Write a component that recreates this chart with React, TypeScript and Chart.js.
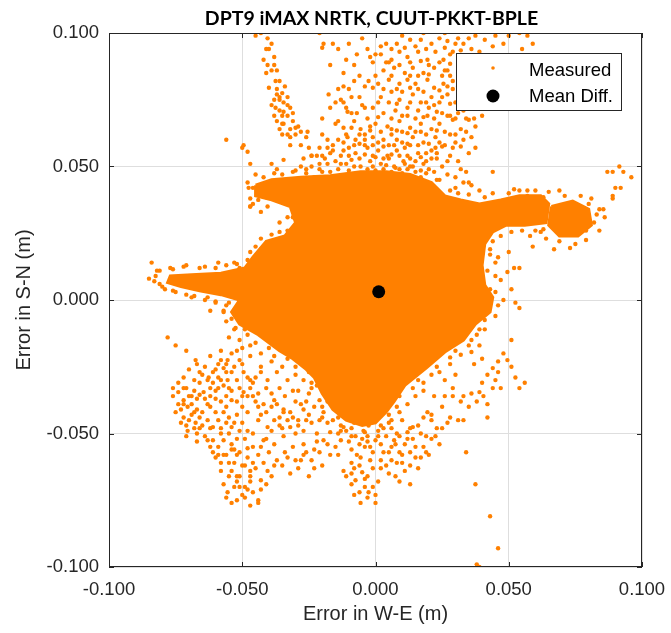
import { useEffect, useRef } from "react";
import { Chart, registerables } from "chart.js";

Chart.register(...registerables);

const TITLE = "DPT9 iMAX NRTK, CUUT-PKKT-BPLE";
const X_LABEL = "Error in W-E (m)";
const Y_LABEL = "Error in S-N (m)";
const TICK_VALUES = [-0.1, -0.05, 0, 0.05, 0.1];
const TICK_LABELS = ["-0.100", "-0.050", "0.000", "0.050", "0.100"];

const ORANGE = "#ff8000";
const INK = "#262626";

// All positions below are in millimetres (W-E, S-N).

// Outline of the saturated central cloud, where the fixes overlap completely.
const coreOutline: number[][] = [
  [-45, 43], [-39, 45], [-28, 46], [-17, 46.5], [-5.6, 48], [4, 48], [13, 47], [21, 44],
  [26, 39], [32, 37.5], [39, 36], [47, 37.5], [54, 39], [62, 39], [65, 36], [64, 29],
  [56, 28], [49, 28], [44, 25.5], [41, 21], [40, 13], [41, 5.6], [44, 1], [43, -4.5],
  [37.5, -9], [33, -15], [26, -19.5], [19, -25.5], [11, -32], [7, -38], [4, -42], [0, -46],
  [-5, -47], [-11, -45], [-16, -41], [-20, -35], [-23, -29], [-26, -26], [-31, -22], [-36, -19],
  [-44, -13], [-51, -9], [-54, -4.5], [-51, 0], [-58, 2], [-66, 3.5], [-73, 5], [-78, 6.5],
  [-77, 9], [-69, 9.5], [-58, 10], [-49, 12], [-46, 16], [-41, 22], [-34, 24], [-30, 29],
  [-32, 35], [-39, 37.5], [-45, 39], [-45, 43],
];

// Outline of the dense eastern cluster.
const eastOutline: number[][] = [
  [66, 35], [74, 37], [80, 34], [81, 28], [76, 24], [69, 24], [65, 28], [66, 35],
];

// Individual fixes around the dense areas.
const northWestFixes: number[][] = [
  [-45, 99], [-40.5, 98], [-41, 94], [-40, 94], [-38, 91], [-40.5, 88], [-41, 85], [-37.5, 82],
  [-36, 82], [-40, 79.5], [-37, 77], [-36, 76], [-36, 75], [-34.5, 74], [-37.5, 72], [-33, 73],
  [-36, 71], [-34.5, 70.5], [-32, 72], [-38, 69], [-35, 69], [-33, 69], [-37, 67], [-34.5, 66],
  [-36, 64], [-32, 64], [-30, 64.5], [-29, 65], [-32, 61], [-49.5, 58], [-48, 55.5], [-56, 60],
  [-50, 57], [-47, 51], [-45, 47], [-47.6, 42], [-46, 42], [-44, 37.5], [-43, 33], [-40.5, 35],
  [-46, 36], [-47, 35], [-39, 51], [-37, 49], [-34.5, 52.5], [-31, 48], [-28, 50], [-24, 54],
  [-21, 51], [-17, 55], [-27, 53], [-21, 49], [-17, 48], [-23, 46],
  [-39, 73], [-38, 75], [-35, 77.5], [-33, 76], [-39, 86], [-38, 88], [-35, 66], [-31, 67],
  [-33, 62], [-28, 58], [-26, 61], [-20, 62], [-18, 60], [-22, 54], [-19, 53], [-24, 50],
  [-26, 49], [-12, 85], [-11, 90], [-8, 88], [-6, 76], [-7, 70], [-20, 68],
  [-42, 90], [-39, 96], [-43, 100], [-37, 86], [-34, 80], [-37, 79], [-31, 70], [-30, 62],
  [-28, 63], [-35, 62], [-32, 58],
];

const northFixes: number[][] = [
  [-20, 94.5], [-16, 96], [-14, 94], [-19.5, 96], [-21, 100], [-17, 88], [-17.6, 77], [-14, 79],
  [-13, 75], [-15, 74], [-10, 79], [-17, 72], [-11, 72], [-10.5, 70.5], [-25.5, 63], [-25, 57],
  [-14, 67], [-21, 57], [-24, 54], [-3, 94], [-2.6, 82], [-4, 72], [-2, 91], [0, 92],
  [-1, 89], [-1, 79.5], [-12, 64.5], [-9, 64.5], [-14, 60], [-10.5, 61], [-7.5, 60], [-5.6, 64],
  [-4, 62], [-18, 57], [-16, 58], [-16, 56], [-13, 54], [-9, 52.5], [-7.5, 55], [-11, 51],
  [-13, 51], [-5.6, 50], [-15, 66],
  [4, 96], [8, 96], [13, 97.5], [15, 95], [17, 97.5], [21, 96], [24, 98], [27, 97], [31, 98], [33, 96],
  [2, 92], [6, 90], [9, 93], [12, 91], [16, 93], [19.5, 90], [22.5, 93], [25.5, 90], [28, 92],
  [3, 86], [7, 87], [11, 85], [14, 87], [18, 85], [22, 87], [25, 84], [27, 86],
  [1, 81], [5, 82.5], [9, 81], [12, 82.5], [15, 81], [19.5, 82.5], [22, 79.5], [25.5, 81], [29, 82],
  [2, 76], [6, 78], [9, 75], [14, 77], [17, 74], [21, 76], [24, 74], [27, 77],
  [-1, 72], [3, 70], [7.5, 71], [12, 69], [16, 71], [19.5, 69], [23, 70.5], [27, 69], [31, 70], [34, 68],
  [0, 66], [4.5, 65], [9, 67], [13, 64.5], [17, 66], [21, 64], [24, 66], [29, 67.5], [32, 64],
  [-1, 61], [3, 60], [6, 62], [10, 59], [14, 61], [18, 59], [22.5, 61], [24, 59],
  [1, 56], [4.5, 54], [8, 56], [12, 54], [16, 55], [21, 53],
  [2, 51], [7, 50], [10.5, 52], [14, 50], [18, 51],
  [45, 99], [50, 99], [54, 100], [57, 99], [59, 96], [55, 94], [48, 96], [44, 95], [37.5, 99],
  [41, 97.5], [36, 94], [29, 93], [26, 86], [27, 80], [25, 70], [28, 69], [33, 71], [35, 67.5],
  [37.5, 65], [40, 69], [36, 61], [37.5, 57], [33, 60], [35, 55], [21, 56], [22.5, 57],
  [7.5, 49.5], [15, 48], [24, 45], [30, 42], [36, 43], [39, 41], [34, 48], [35, 44], [33, 44], [44, 48],
  [-12, 56], [-8, 58], [-3, 57], [-1, 54], [1, 59], [5, 58], [8, 60], [11, 57], [13, 58], [15, 52],
  [19, 55], [23, 55], [26, 58], [28, 62], [30, 59], [27, 52], [25, 50], [20, 49], [11, 51], [5, 53],
  [-2, 52], [-6, 53], [-4, 58], [6, 64], [10, 63], [15, 63], [19, 62], [26, 63], [12, 72], [15, 68],
  [20, 72], [5, 74], [10, 78], [18, 78], [22, 73], [25, 76], [30, 74], [29, 79], [31, 85], [33, 90],
  [20, 88], [16, 84], [9, 88], [5, 89], [2, 95], [10, 99], [18, 100], [26, 100], [30, 96], [35, 98],
  [39, 93], [36, 88], [32, 76], [35, 72],
  [6, 94], [11, 94.5], [19, 94], [26, 94.5], [32, 93.5],
  [4, 89], [13, 89], [17, 89.5], [24, 89], [28, 88.5],
  [0, 84], [6, 84], [13, 84], [20, 84.5], [28, 84],
  [3, 79], [8, 79], [13, 79.5], [16, 79], [24, 78.5], [31, 80],
  [1, 74], [8, 73.5], [13, 74], [19, 74], [28, 73.5], [33, 74],
  [1, 68.5], [6, 68], [10, 69], [18, 68.5], [22, 68], [30, 68], [37, 68],
  [-2, 63.5], [2, 63], [8, 63.5], [12, 62.5], [17, 63], [23, 63.5], [30, 62], [34, 63],
  [-6, 58.5], [-1, 58], [3, 57.5], [7, 58], [12, 58.5], [16, 58], [20, 58.5], [25, 57.5], [29, 57], [32, 57.5],
  [-10, 54], [-4, 54.5], [0, 53.5], [3, 53], [6, 54.5], [9, 54], [13, 53], [17, 53.5], [19, 52], [23, 53],
  [28, 54], [31, 52],
  [-8, 50], [-1, 50], [4, 50.5], [9, 49], [13, 50], [17, 48.5], [22, 48], [27, 47], [30, 46], [32, 49],
  [-12, 80], [-8, 82], [-6, 84], [-9, 76], [-5, 73], [-12, 74], [-8, 67], [-3, 68], [-11, 62], [-6, 62],
  [-2, 65], [-10, 57], [-4, 60], [-15, 52], [-18, 51], [-20, 54], [-12, 59], [-9, 70], [-4, 80], [-7, 92],
  [-10, 96], [-5, 98],
];

const eastFixes: number[][] = [
  [65, 40.5], [69, 41], [64, 23], [69, 22], [75, 21], [79, 22.5], [84, 26], [86, 31],
  [85.5, 34], [81, 38], [77, 39], [71, 39], [73, 19.5], [67, 19], [59, 20], [84, 34],
  [62, 25.5], [60, 41], [57, 39], [54, 41], [78, 31], [82, 29], [79, 26], [70, 30],
  [72, 34], [76, 32], [83, 32], [80, 36],
  [87, 48], [89, 48], [91.5, 50], [93, 48], [96, 46], [90, 42], [92, 42], [89, 39], [89, 38],
  [50, 18], [52, 12], [54, 12], [45, 3], [48, 0], [52.5, -1], [54, -3], [51, 4], [47, 7.5],
  [45, 14], [43, 19], [49.5, 10.5], [44, 22], [46, 16], [45, 9],
];

const southEastFixes: number[][] = [
  [51, -15], [49.5, -22.5], [52.5, -29], [56, -31], [54, -33], [46, -23], [44, -25.5], [46, -27],
  [47, -33], [44, -33], [42, -39], [40.5, -36], [39, -34.5], [29, -33], [29, -36], [33, -36],
  [36, -35], [27, -46], [31, -45], [22, -36], [18, -34], [21, -43], [19.5, -42], [16, -47],
  [13, -48], [22.5, -51], [9, -51], [12, -49.5], [7, -52.5], [34, -57], [37.5, -69], [43, -81],
  [46, -93], [38, -99], [39, -100],
  [36, -15], [39, -11], [41, -7.5], [32, -20.5], [28, -24], [24, -27], [36, -19.5], [39, -17],
  [30, -28], [26, -30],
  [32, -38], [35, -40], [38, -38], [42, -44], [26, -36], [25, -40], [28, -44], [33, -45],
  [40, -31], [48, -20], [51, -25], [42, -28], [45, -30], [37, -24], [40, -22],
];

const southFixes: number[][] = [
  [1, -44], [5, -46], [10, -45], [14, -47.6], [18, -44], [21, -45], [-4, -55], [-1, -57],
  [3, -57], [6, -60], [10, -61], [15, -59], [19, -57], [-9, -61], [-5, -64.5], [-1, -63],
  [-7.5, -67.5], [-9, -69], [-4, -70], [-2.6, -72], [-5.6, -76], [0, -76], [8, -61], [11, -64],
  [17, -59], [16, -63], [20, -58], [13, -69], [21, -52], [18, -55],
  [-11, -49], [-7.5, -51], [-4, -49.5], [0, -52.5], [4, -51], [7.5, -54], [-9, -56], [-13, -52.5],
  [-5.6, -59], [4, -62], [7.5, -66], [-13, -47], [-17, -49.5], [-2.6, -47], [6, -48], [11, -54],
  [-12, -64], [-14, -58],
  [-10, -53], [-6, -54], [-2, -55], [2, -54], [5, -57], [9, -57], [13, -57], [-8, -63],
  [-3, -66], [1, -68], [-6, -72], [-11, -66], [2, -63], [14, -52], [17, -50], [25, -48],
  [24, -54], [-15, -55],
  [-7, -45.5], [-3, -53], [1, -51], [3, -48], [8, -50], [12, -52], [15, -55], [10, -58],
  [6, -55], [2, -60], [-2, -60], [-6, -62], [-9, -65], [-7, -58], [-4, -67], [-1, -70],
  [-8, -73], [-3, -74], [0, -73], [5, -65], [9, -68], [13, -62], [19, -51], [23, -48],
];

const southWestFixes: number[][] = [
  [-78, -14], [-75, -17], [-71, -19], [-67.5, -22.5], [-62, -21], [-58, -19], [-52, -19], [-51, -22.5],
  [-55.5, -22.5], [-53, -25], [-59, -24], [-57, -25.5], [-61, -27], [-59, -29], [-63, -30], [-55.5, -30],
  [-57, -32], [-60, -34], [-55, -33], [-49.5, -27], [-47, -30], [-43, -25], [-40.5, -30], [-61, -31],
  [-54, -34], [-51, -33], [-48, -36], [-44, -35], [-42, -39], [-38, -37.5],
  [-68, -30], [-66, -31], [-62.6, -29], [-74, -34.5], [-72, -37.5], [-70.5, -40], [-73, -41], [-69, -39],
  [-67, -37], [-64.5, -34.5], [-63, -39],
  [-72, -44], [-70, -45], [-67.5, -46], [-66, -44], [-63, -45], [-61, -47.6], [-70.5, -49], [-67, -50],
  [-64, -51], [-61, -52.5], [-59, -55], [-57, -52.5], [-54, -54], [-53, -56], [-51, -57], [-48, -55.5],
  [-58, -22.5], [-54, -20], [-48, -29], [-46, -31], [-43, -27],
  [-59, -33], [-49.5, -34.5], [-46, -36], [-39, -35], [-37, -39],
  [-48, -42], [-44, -45], [-40.5, -47.6], [-38, -45], [-34.5, -42], [-32, -47.6], [-29, -45], [-27, -49],
  [-24, -46], [-21, -45],
  [-46, -50], [-42, -52.5], [-38, -54], [-34.5, -51], [-31, -55], [-27, -54], [-23, -56], [-19.5, -52.5],
  [-58, -61], [-54, -64], [-51, -66], [-53, -70], [-55.5, -72], [-54, -76], [-52, -75], [-48, -71],
  [-44, -75], [-46, -72], [-44, -76], [-49, -70],
  [-46, -61], [-40.5, -64], [-37, -60], [-43, -67.5], [-39, -66],
  [-32, -65], [-28, -60], [-23, -63], [-21, -57],
  [-21, -37.5], [-17, -33], [-33, -30], [-31, -34], [-28, -39], [-37, -27],
  [-34.5, -41], [-31, -44], [-27, -41], [-19.5, -42], [-16, -45], [-12, -47.6], [-8, -46], [-4.5, -49],
  [-54, -37.5], [-72, -39], [-69, -36], [-67, -41], [-62, -40], [-59, -45], [-57, -42], [-54, -47.6],
  [-73, -46], [-63, -52.5], [-61, -57], [-54, -56], [-47, -66], [-45, -63], [-48, -59], [-46, -55],
  [-52, -66], [-51, -70], [-57, -69],
  [-76, -36], [-74, -39], [-71, -33], [-69, -43], [-66, -48], [-62, -48], [-58, -48], [-56, -46],
  [-52, -43], [-50, -46], [-48, -49], [-44, -40], [-41, -42], [-36, -44], [-35, -48], [-32, -42],
  [-30, -50], [-26, -45], [-22, -50], [-18, -46], [-15, -40], [-25, -35], [-30, -38], [-36, -33],
  [-41, -33], [-45, -29], [-50, -24], [-56, -27], [-64, -25], [-66, -27], [-70, -26], [-62, -36],
  [-58, -38], [-56, -36], [-52, -38], [-50, -40], [-56, -58], [-53, -61], [-50, -62], [-49, -74],
  [-47, -77], [-55, -66], [-58, -64], [-60, -59], [-43, -55], [-40, -57], [-34, -57], [-30, -60],
  [-26, -57], [-35, -62], [-25, -66], [-20, -62], [-17, -58],
  [-74, -31], [-72, -33], [-70, -36], [-68, -34], [-66, -35.5], [-64, -37], [-65, -42], [-68, -42],
  [-71, -47], [-68, -48], [-65, -47], [-60, -42], [-60, -37], [-62, -33], [-58, -30], [-56, -40],
  [-55, -44], [-53, -46], [-51, -49], [-49, -52], [-52, -52], [-55, -50], [-58, -50], [-57, -58],
  [-55, -61], [-52, -58], [-49, -62], [-47, -64], [-44, -58], [-42, -61], [-41, -52], [-39, -49],
  [-36, -47], [-33, -45], [-29, -47], [-25, -43], [-23, -40], [-26, -38], [-29, -34], [-34, -36],
  [-39, -40], [-43, -43], [-45, -38], [-47, -33], [-50, -36], [-52, -30], [-54, -27], [-56, -24],
  [-60, -26], [-65, -28], [-67, -24], [-72, -29], [-76, -33], [-75, -42], [-71, -51], [-67, -53],
  [-62, -55], [-59, -58], [-52, -68], [-50, -73], [-56, -74], [-47, -68], [-43, -71], [-41, -69],
  [-38, -62], [-33, -59], [-29, -63], [-27, -58], [-24, -60], [-22, -53], [-18, -54], [-14, -50],
  [-20, -40], [-24, -31],
];

const westFixes: number[][] = [
  [-84, 14], [-85, 8], [-82.5, 9], [-81, 6], [-59, 14], [-53, 14], [-51, 12], [-47, 35],
  [-43, 19], [-79, 4], [-75, 3], [-69, 1], [-64, 0], [-60, -1], [-56, -2], [-77, 12],
  [-71, 13], [-66, 12], [-81, 11], [-54, -7], [-57, -4.5], [-62, -4],
  [-49, -11], [-51, -15], [-47, -17], [-55, -14], [-52.5, -10.5],
  [-36, 25.5], [-36, 29], [-33, 31], [-31, 27],
];

// Fixes scattered along the rim of the saturated cloud.
const rimFixes: number[][] = [
  [-42, 46], [-38, 47.5], [-35, 47], [-30, 48.5], [-26, 47.5], [-20, 48], [-14, 49], [-10, 48.5],
  [-3, 49], [0, 48.5], [3, 49], [6, 48], [10, 47.5], [12, 49], [17, 46], [19, 47.5],
  [23, 45], [28, 41], [31, 40], [35, 39.5], [41, 38.5], [44, 40], [50, 40], [52, 41.5],
  [57, 41], [63, 38.5],
  [60, 26], [55, 26], [51, 25.5], [47, 24], [58, 24], [63, 26.5],
  [43, 17], [42, 11], [43, 4], [46, -2], [45, -6], [41, -11], [38, -13], [35, -17],
  [30, -19], [28, -21.5], [23, -25], [21, -28], [16, -30], [14, -33], [9, -36], [8, -40],
  [5, -43], [1, -49], [-3, -51],
  [-9, -48], [-14, -44], [-16, -40], [-19, -35], [-22, -32], [-25, -27], [-30, -25], [-33, -22],
  [-38, -21], [-40, -18], [-45, -16], [-48, -13], [-53, -11], [-56, -8], [-57, -4], [-55, -1],
  [-60, -0.5], [-63, 1], [-68, 1.5], [-71, 2], [-76, 3.5], [-80, 5], [-83, 7],
  [-82, 11], [-76, 11.5], [-72, 12.5], [-64, 12.5], [-60, 12], [-56, 13], [-52, 13.5], [-48, 15],
  [-47, 18], [-45, 20], [-43, 23], [-39, 24.5], [-36, 23], [-33, 26], [-31, 31], [-30, 34],
  [-34, 36.5], [-37, 38.5], [-41, 38.5], [-44, 40], [-47, 38], [-48, 44],
  [-24, -33], [-27, -30], [-30, -28], [-35, -25], [-39, -23], [-43, -20], [-47, -21], [-50, -18],
  [-20, -44], [-18, -38], [-13, -49], [-9, -51], [-5, -52], [2, -47], [6, -45], [9, -42],
  [12, -39], [15, -36], [18, -31],
];

// Mean of all fixes, millimetres.
const meanWE = 1.2;
const meanSN = 3.1;

const toPoints = (pts: number[][]) => pts.map(([x, y]) => ({ x: x / 1000, y: y / 1000 }));

const measured = [
  ...northWestFixes,
  ...northFixes,
  ...eastFixes,
  ...southEastFixes,
  ...southFixes,
  ...southWestFixes,
  ...westFixes,
  ...rimFixes,
];

const frameAndLegend = {
  id: "frameAndLegend",
  afterDraw(chart: any) {
    const { ctx, chartArea: a } = chart;
    const xs = chart.scales.x;
    const ys = chart.scales.y;
    ctx.save();

    // axes box with inward tick marks
    ctx.strokeStyle = INK;
    ctx.lineWidth = 1;
    ctx.strokeRect(a.left + 0.5, a.top + 0.5, a.right - a.left - 1, a.bottom - a.top - 1);
    ctx.beginPath();
    for (const v of TICK_VALUES) {
      const px = Math.round(xs.getPixelForValue(v)) + 0.5;
      ctx.moveTo(px, a.bottom);
      ctx.lineTo(px, a.bottom - 5);
      ctx.moveTo(px, a.top);
      ctx.lineTo(px, a.top + 5);
      const py = Math.round(ys.getPixelForValue(v)) + 0.5;
      ctx.moveTo(a.left, py);
      ctx.lineTo(a.left + 5, py);
      ctx.moveTo(a.right, py);
      ctx.lineTo(a.right - 5, py);
    }
    ctx.stroke();

    // title
    ctx.fillStyle = "#000";
    ctx.font = "bold 19.5px Lato";
    ctx.textAlign = "center";
    ctx.textBaseline = "middle";
    ctx.fillText(TITLE, (a.left + a.right) / 2 - 4, 19);

    // legend, upper right inside the axes
    const ds = chart.data.datasets;
    const entries = [ds[1], ds[0]];
    const bw = 165;
    const bh = 57;
    const bx = a.right - 21 - bw;
    const by = a.top + 20;
    ctx.fillStyle = "#fff";
    ctx.fillRect(bx, by, bw, bh);
    ctx.strokeStyle = INK;
    ctx.strokeRect(bx + 0.5, by + 0.5, bw, bh);
    ctx.font = "18.5px 'Liberation Sans'";
    ctx.textAlign = "left";
    entries.forEach((d: any, i: number) => {
      const cy = by + 17 + i * 26;
      ctx.beginPath();
      ctx.fillStyle = d.pointBackgroundColor;
      ctx.arc(bx + 37, cy - (i === 0 ? 2 : 0), i === 0 ? 1.8 : d.pointRadius, 0, Math.PI * 2);
      ctx.fill();
      ctx.fillStyle = "#000";
      ctx.fillText(d.label, bx + 73, cy + 1);
    });
    ctx.restore();
  },
};

export default function App() {
  const canvasRef = useRef<HTMLCanvasElement | null>(null);

  useEffect(() => {
    if (!canvasRef.current) return;
    const chart = new Chart(canvasRef.current, {
      type: "scatter",
      data: {
        datasets: [
          {
            label: "Mean Diff.",
            data: toPoints([[meanWE, meanSN]]),
            pointRadius: 6.5,
            pointBackgroundColor: "#000",
            pointBorderWidth: 0,
            order: 0,
          },
          {
            label: "Measured",
            data: toPoints(measured),
            pointRadius: 2.2,
            pointBackgroundColor: ORANGE,
            pointBorderWidth: 0,
            order: 1,
          },
          {
            label: "",
            data: toPoints(coreOutline),
            showLine: true,
            fill: "shape",
            backgroundColor: ORANGE,
            borderColor: ORANGE,
            borderWidth: 3,
            pointRadius: 0,
            order: 2,
          },
          {
            label: "",
            data: toPoints(eastOutline),
            showLine: true,
            fill: "shape",
            backgroundColor: ORANGE,
            borderColor: ORANGE,
            borderWidth: 3,
            pointRadius: 0,
            order: 2,
          },
        ] as any,
      },
      options: {
        animation: false,
        responsive: true,
        maintainAspectRatio: false,
        events: [],
        layout: { padding: { top: 33, right: 29, left: 0, bottom: 0 } },
        plugins: {
          legend: { display: false },
          tooltip: { enabled: false },
          title: { display: false },
        },
        scales: {
          x: {
            type: "linear",
            min: -0.1,
            max: 0.1,
            afterFit: (axis: any) => {
              axis.height = 66;
              axis.paddingLeft = 0;
              axis.paddingRight = 0;
            },
            afterBuildTicks: (axis: any) => {
              axis.ticks = TICK_VALUES.map((v) => ({ value: v }));
            },
            ticks: {
              callback: (_v: any, i: number) => TICK_LABELS[i],
              color: INK,
              font: { family: "'Liberation Sans'", size: 18.5 },
              padding: 12,
              maxRotation: 0,
              autoSkip: false,
            },
            grid: { color: "#dedede", drawTicks: false },
            border: { display: false },
            title: {
              display: true,
              text: X_LABEL,
              color: INK,
              font: { family: "'Liberation Sans'", size: 20 },
              padding: { top: 7, bottom: 7 },
            },
          },
          y: {
            type: "linear",
            min: -0.1,
            max: 0.1,
            afterFit: (axis: any) => {
              axis.width = 109;
              axis.paddingTop = 0;
              axis.paddingBottom = 0;
            },
            afterBuildTicks: (axis: any) => {
              axis.ticks = TICK_VALUES.map((v) => ({ value: v }));
            },
            ticks: {
              callback: (_v: any, i: number) => TICK_LABELS[i],
              color: INK,
              font: { family: "'Liberation Sans'", size: 18.5 },
              padding: 10,
              autoSkip: false,
            },
            grid: { color: "#dedede", drawTicks: false },
            border: { display: false },
            title: {
              display: true,
              text: Y_LABEL,
              color: INK,
              font: { family: "'Liberation Sans'", size: 20 },
              padding: { top: 12, bottom: 12 },
            },
          },
        },
      },
      plugins: [frameAndLegend],
    });
    return () => chart.destroy();
  }, []);

  return (
    <div style={{ position: "absolute", left: 0, top: 0, width: 671, height: 633, background: "#fff" }}>
      <canvas ref={canvasRef} />
    </div>
  );
}
